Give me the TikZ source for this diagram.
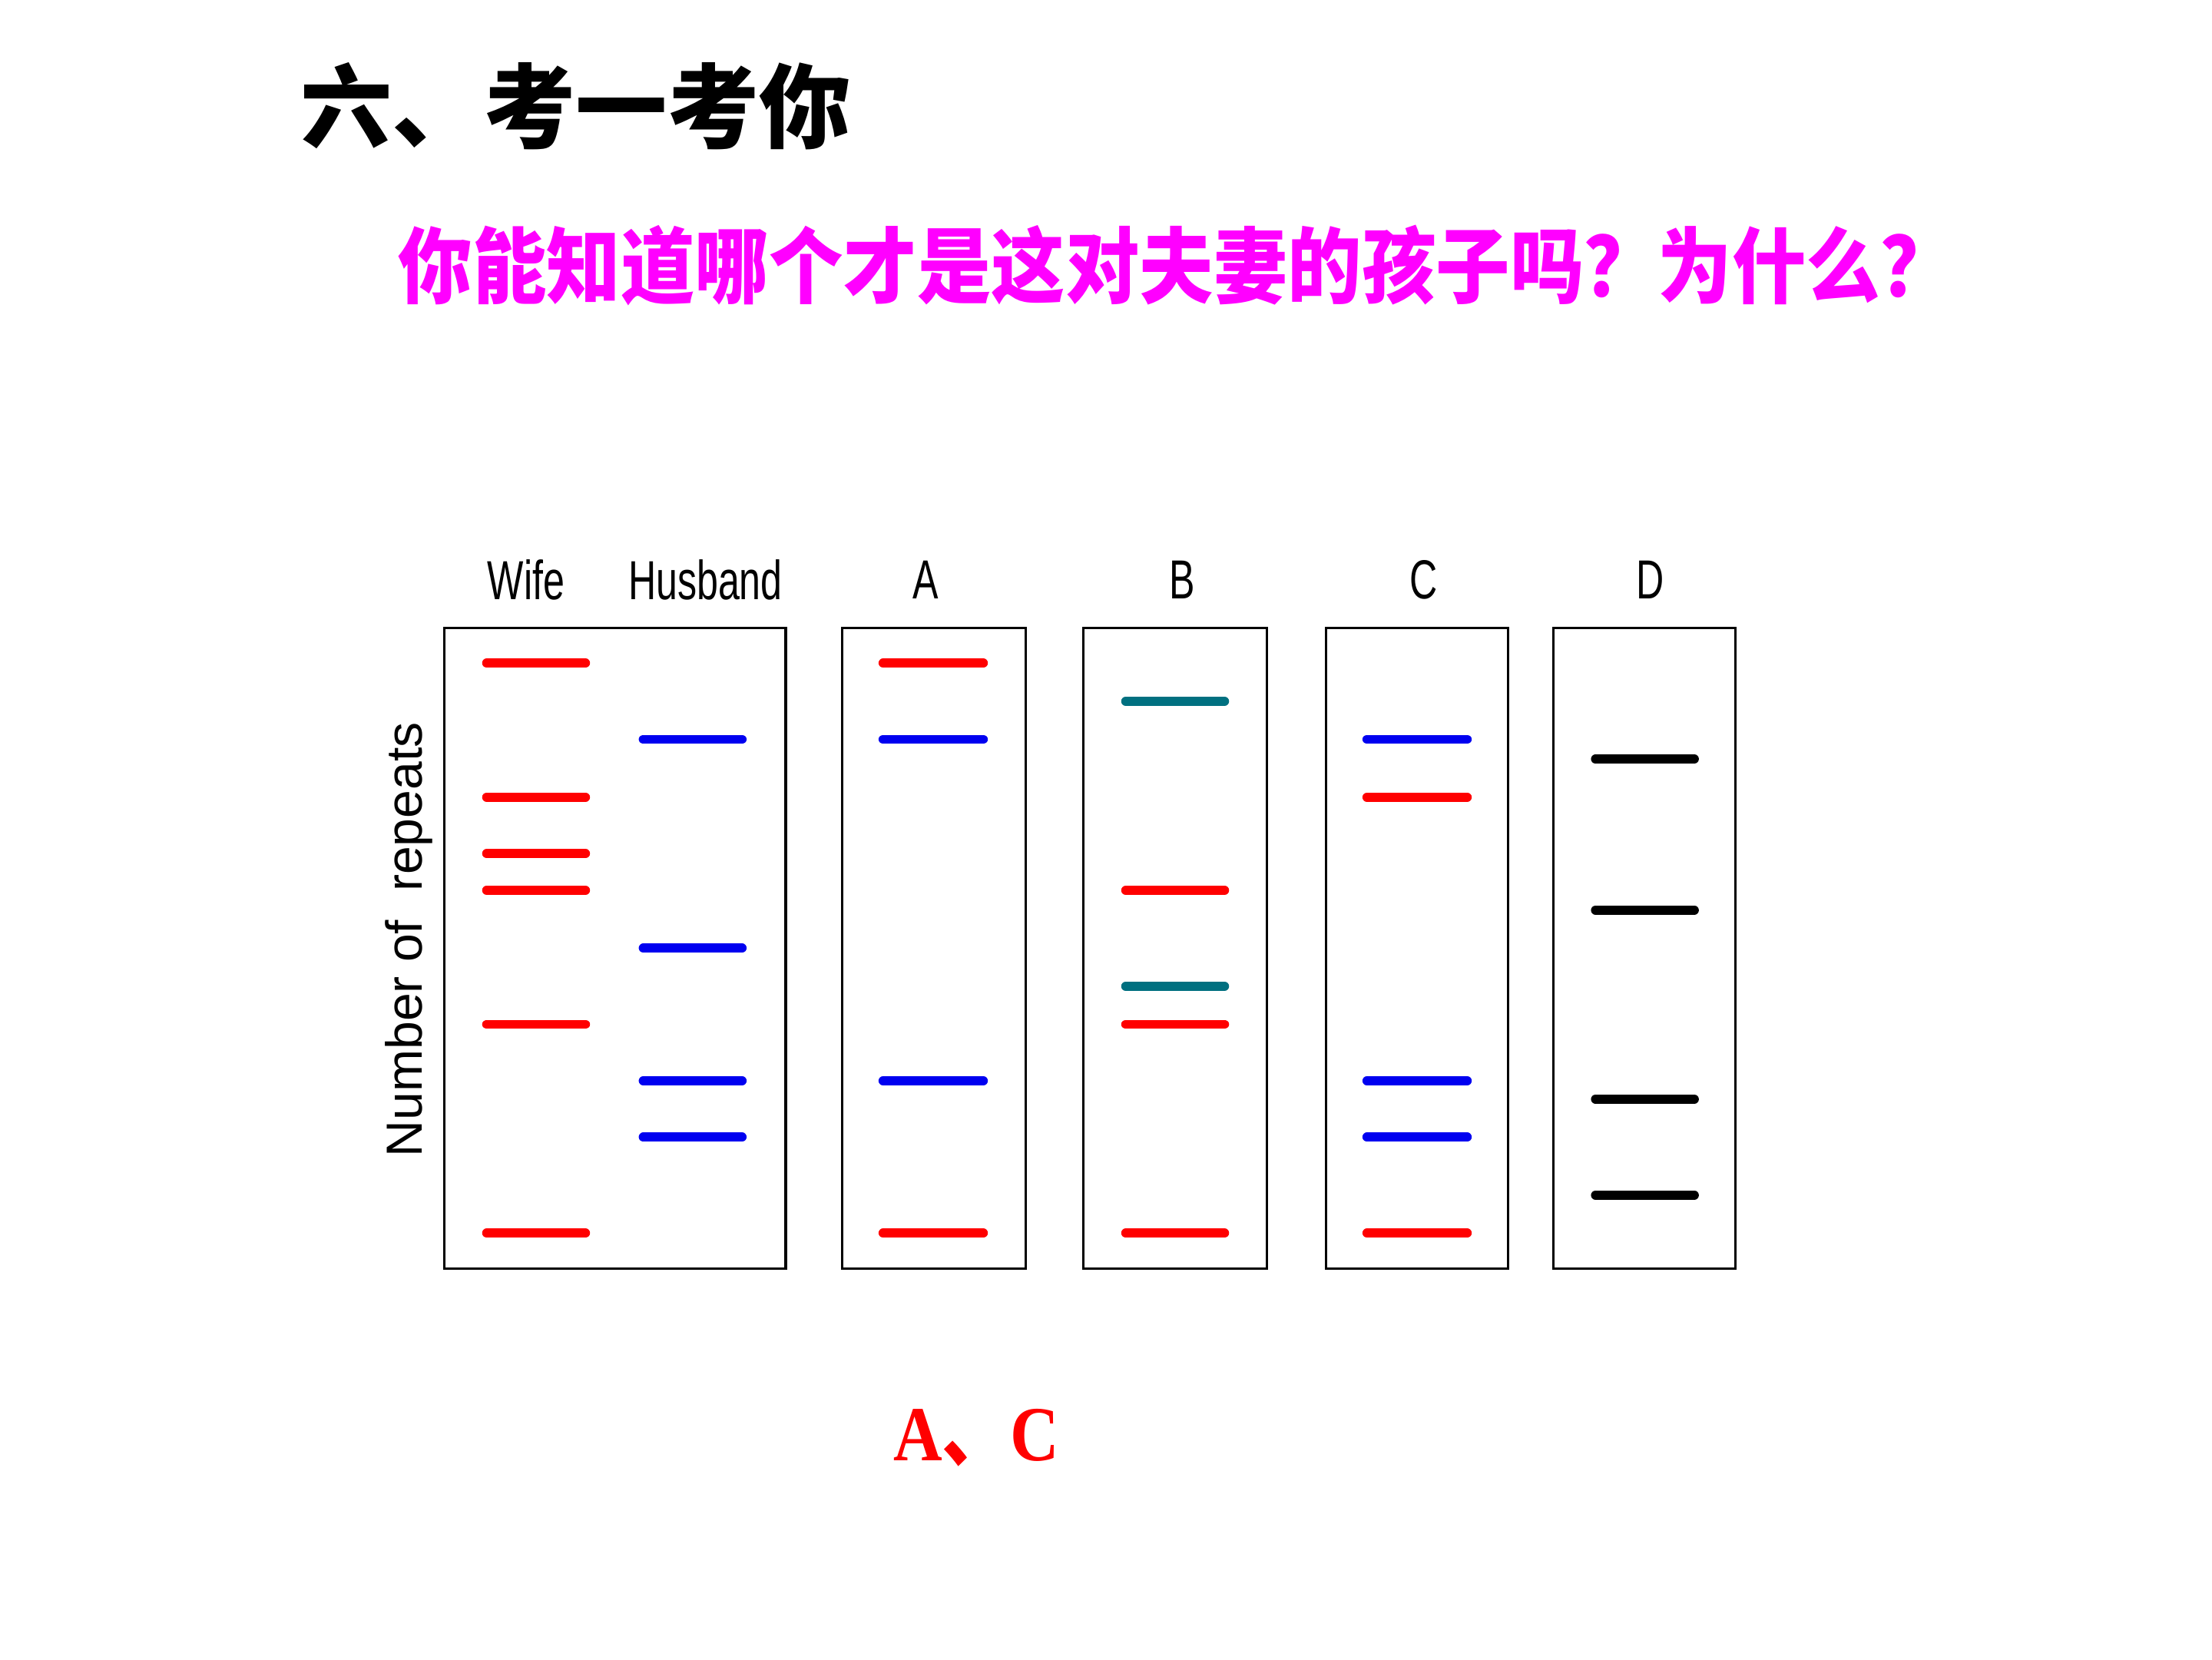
\documentclass[tikz,border=0pt]{standalone}
\usepackage{fontspec}
\setmainfont{Liberation Serif}
\setsansfont{Liberation Sans}
\newfontfamily\cjk{Noto Sans CJK SC}
\definecolor{bandred}{RGB}{255,0,0}
\definecolor{bandblue}{RGB}{0,0,240}
\definecolor{bandteal}{RGB}{0,112,128}
\definecolor{qmag}{RGB}{255,0,255}
\tikzset{
  gelbox/.style={draw=black, line width=1.8pt},
  band/.style={line width=6.5pt, line cap=round},
  lanelabel/.style={font=\sffamily\fontsize{39}{42}\selectfont, inner sep=0pt, xscale=0.7},
}
\begin{document}
\begin{tikzpicture}[x=1pt,y=-1pt]
\useasboundingbox (0,0) rectangle (1568,1176);
% titles
\node[anchor=west, inner sep=0pt, font=\cjk\bfseries\fontsize{65}{70}\selectfont] (title) at (213,75) {六、考一考你};
\node[inner sep=0pt, text=qmag, font=\cjk\bfseries\fontsize{51}{56}\selectfont] (question) at (834,188) {\scalebox{1.03}[1.15]{你能知道哪个才是这对夫妻的孩子吗？为什么？}};
% lane labels
\node[lanelabel] (lw) at (373,411) {Wife};
\node[lanelabel] (lh) at (500,411) {Husband};
\node[lanelabel] (la) at (656,411) {A};
\node[lanelabel] (lb) at (838,411) {B};
\node[lanelabel] (lc) at (1009,411) {C};
\node[lanelabel] (ld) at (1170,411) {D};
% axis label
\node[rotate=90, inner sep=0pt, font=\sffamily\fontsize{36}{38}\selectfont] (axis) at (290,666) {Number of\ \ repeats};
% boxes
\draw[gelbox] (315,445) rectangle (557,899);
\draw[gelbox] (597,445) rectangle (727,899);
\draw[gelbox] (768,445) rectangle (898,899);
\draw[gelbox] (940,445) rectangle (1069,899);
\draw[gelbox] (1101,445) rectangle (1230,899);
% Wife
\foreach \y in {470,565,605,631,726,874} \draw[band,bandred] (345,\y) -- (415,\y);
% Husband
\foreach \y in {524,672,766,806} \draw[band,bandblue] (456,\y) -- (526,\y);
% A
\foreach \y in {470,874} \draw[band,bandred] (626,\y) -- (697,\y);
\foreach \y in {524,766} \draw[band,bandblue] (626,\y) -- (697,\y);
% B
\foreach \y in {497,699} \draw[band,bandteal] (798,\y) -- (868,\y);
\foreach \y in {631,726,874} \draw[band,bandred] (798,\y) -- (868,\y);
% C
\foreach \y in {524,766,806} \draw[band,bandblue] (969,\y) -- (1040,\y);
\foreach \y in {565,874} \draw[band,bandred] (969,\y) -- (1040,\y);
% D
\foreach \y in {538,645,779,847} \draw[band,black] (1131,\y) -- (1201,\y);
% answer
\node[inner sep=0pt, text=bandred, font=\bfseries\fontsize{48}{52}\selectfont] (answer) at (692,1019) {\scalebox{1}[1.15]{A{\cjk 、}C}};
\end{tikzpicture}
\end{document}
